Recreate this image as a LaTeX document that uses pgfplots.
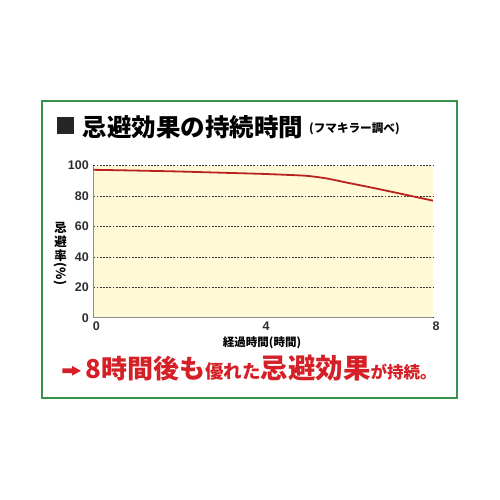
\documentclass[border=0pt]{standalone}
\usepackage{pgfplots}
\pgfplotsset{compat=1.18}
\usepackage{fontspec}
\setmainfont{Noto Sans CJK JP}
\newfontfamily\numfont{Liberation Sans}

\definecolor{framegreen}{RGB}{55,145,75}
\definecolor{plotbg}{RGB}{255,249,214}
\definecolor{linered}{RGB}{185,35,30}
\definecolor{textred}{RGB}{212,32,38}
\definecolor{ticktext}{RGB}{45,45,45}

\begin{document}
\begin{tikzpicture}[x=1pt,y=1pt]
  % page area 500 x 500
  \path[fill=white] (0,0) rectangle (500,500);
  \draw[framegreen, line width=2pt] (42.3,102.3) rectangle (457,399.3);

  % title
  \fill[black!85] (57.3,365.7) rectangle (74.3,382.7);
  \node[anchor=west, inner sep=0pt] at (82.7,373)
    {\fontsize{24.5}{26}\selectfont\bfseries 忌避効果の持続時間};
  \node[anchor=west, inner sep=0pt] at (309,371)
    {\fontsize{11.6}{13}\selectfont\bfseries (フマキラー調べ)};

  \begin{axis}[
      at={(93.3pt,182.3pt)}, anchor=south west,
      scale only axis, width=339.7pt, height=152pt,
      xmin=0, xmax=8, ymin=0, ymax=100,
      xtick={0,4,8}, ytick={0,20,40,60,80,100},
      axis lines*=left,
      axis line style={draw=black!45, line width=1.2pt, -},
      major tick length=0pt,
      ymajorgrids=true,
      grid style={black!80, dash pattern=on 1.8pt off 1.4pt, line width=0.7pt},
      axis background/.style={fill=plotbg},
      /pgf/number format/assume math mode=true,
      ticklabel style={font=\numfont\bfseries\fontsize{12.5}{13}\selectfont, text=ticktext},
      yticklabel style={xshift=-1pt},
      xticklabel style={yshift=-1pt, xshift=3pt},
      clip=false,
    ]
    \addplot[linered, line width=1.8pt, smooth, tension=0.3] coordinates {
      (0,97.3) (1,96.8) (2,96.2) (3,95.4) (4,94.6) (5,93.4)
      (5.5,91.6) (6,88.7) (6.5,85.9) (7,83) (7.5,80) (8,77)
    };
  \end{axis}

  % y label (vertical, one glyph per node)
  \begin{scope}[every node/.style={inner sep=0pt, font=\fontsize{12.5}{13}\selectfont\bfseries}]
    \node at (60.7,272.5) {忌};
    \node at (60.7,258.5) {避};
    \node at (60.7,244.5) {率};
    \node at (60.7,226) {\rotatebox{-90}{(\%)}};
  \end{scope}
  % x label
  \node[inner sep=0pt, font=\fontsize{11.5}{12}\selectfont\bfseries] at (262,157) {経過時間(時間)};

  % bottom message
  \fill[textred] (62.3,126.9) -- (72,126.9) -- (72,124.3) -- (81,129.2)
                 -- (72,134.1) -- (72,131.5) -- (62.3,131.5) -- cycle;
  \node[anchor=base west, inner sep=0pt, text=textred] at (85.2,121.5)
    {{\fontsize{26}{28}\selectfont\bfseries 8時間後も}%
     {\fontsize{18.5}{20}\selectfont\bfseries 優れた}%
     {\fontsize{27.5}{30}\selectfont\bfseries 忌避効果}%
     {\fontsize{16.5}{17}\selectfont\bfseries が持続。}};
\end{tikzpicture}
\end{document}
